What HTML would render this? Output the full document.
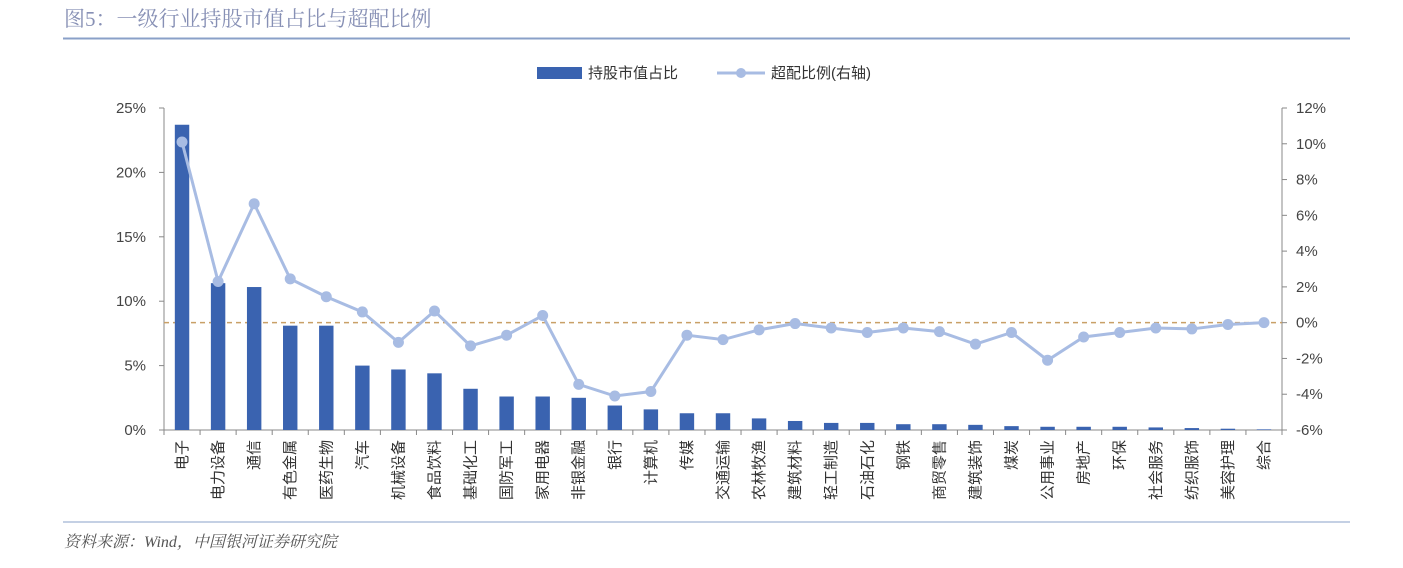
<!DOCTYPE html>
<html><head><meta charset="utf-8"><style>
body{margin:0;background:#fff;width:1403px;height:563px;overflow:hidden;font-family:"Liberation Sans","Noto Sans CJK SC",sans-serif}
</style></head><body>
<svg id="c" width="1403" height="563" xmlns="http://www.w3.org/2000/svg">
<text x="64" y="26" font-size="21" fill="#8790b5" font-family="Liberation Serif, Noto Serif CJK SC, serif">图5：一级行业持股市值占比与超配比例</text>
<line x1="63" y1="38.5" x2="1350" y2="38.5" stroke="#8aa0c8" stroke-width="2"/>
<line x1="63" y1="522" x2="1350" y2="522" stroke="#8aa0c8" stroke-width="1"/>
<text x="64" y="547" font-size="16" fill="#555" font-style="italic" font-family="Liberation Serif, Noto Serif CJK SC, serif">资料来源：Wind，中国银河证券研究院</text>
<g>
<rect x="537" y="67" width="45" height="12" fill="#3a63b0"/>
<text x="588" y="78" font-size="15" fill="#333">持股市值占比</text>
<line x1="717" y1="73" x2="765" y2="73" stroke="#a8bce3" stroke-width="3"/>
<circle cx="741" cy="73" r="5" fill="#a8bce3"/>
<text x="771" y="78" font-size="15" fill="#333">超配比例(右轴)</text>
</g>
<g id="g"></g>
</svg>
<script>
const categories=["电子","电力设备","通信","有色金属","医药生物","汽车","机械设备","食品饮料","基础化工","国防军工","家用电器","非银金融","银行","计算机","传媒","交通运输","农林牧渔","建筑材料","轻工制造","石油石化","钢铁","商贸零售","建筑装饰","煤炭","公用事业","房地产","环保","社会服务","纺织服饰","美容护理","综合"];
const shareValues=[23.7,11.4,11.1,8.1,8.1,5.0,4.7,4.4,3.2,2.6,2.6,2.5,1.9,1.6,1.3,1.3,0.9,0.7,0.55,0.55,0.45,0.45,0.4,0.3,0.25,0.25,0.25,0.2,0.15,0.1,0.05];
const overweightValues=[10.1,2.3,6.65,2.45,1.45,0.6,-1.1,0.65,-1.3,-0.7,0.4,-3.45,-4.1,-3.85,-0.7,-0.95,-0.4,-0.05,-0.3,-0.55,-0.3,-0.5,-1.2,-0.55,-2.1,-0.8,-0.55,-0.3,-0.35,-0.1,0];
const leftTicks=[0,5,10,15,20,25];
const rightTicks=[-6,-4,-2,0,2,4,6,8,10,12];
const NS="http://www.w3.org/2000/svg",g=document.getElementById('g');
const X0=164,X1=1282,YT=108,YB=430;
const band=(X1-X0)/categories.length;
const xc=i=>X0+band*(i+0.5);
const yL=v=>YB-(v/25)*(YB-YT);
const yR=v=>YB-((v+6)/18)*(YB-YT);
function mk(t,a){const e=document.createElementNS(NS,t);for(const k in a)e.setAttribute(k,a[k]);g.appendChild(e);return e;}
let e;
e=mk('line',{x1:X0,y1:YT,x2:X0,y2:YB,stroke:'#888'});


e=mk('line',{x1:X1,y1:YT,x2:X1,y2:YB,stroke:'#888'});


e=mk('line',{x1:X0,y1:YB,x2:X1,y2:YB,stroke:'#888'});


leftTicks.forEach(v=>{const y=yL(v);
 e=mk('line',{x1:X0-5,y1:y,x2:X0,y2:y,stroke:'#888'});
 
 
 e=mk('text',{x:X0-18,y:y+5,'font-size':15,fill:'#444','text-anchor':'end'});e.textContent=v+'%';
 
 });
rightTicks.forEach(v=>{const y=yR(v);
 e=mk('line',{x1:X1,y1:y,x2:X1+5,y2:y,stroke:'#888'});
 
 
 e=mk('text',{x:X1+14,y:y+5,'font-size':15,fill:'#444'});e.textContent=v+'%';
 
 });
for(let i=0;i<=categories.length;i++){e=mk('line',{x1:X0+band*i,y1:YB,x2:X0+band*i,y2:YB+5,stroke:'#888'});
 
 }
e=mk('line',{x1:X0,y1:yR(0),x2:X1,y2:yR(0),stroke:'#c9a067','stroke-width':1.5,'stroke-dasharray':'5,4'});


const bw=band*0.4;
shareValues.forEach((v,i)=>{
 e=mk('rect',{x:xc(i)-bw/2,y:yL(v),width:bw,height:YB-yL(v),fill:'#3a63b0'});
 
 });
e=mk('polyline',{points:overweightValues.map((v,i)=>xc(i)+','+yR(v)).join(' '),fill:'none',stroke:'#a8bce3','stroke-width':3});


overweightValues.forEach((v,i)=>{
 e=mk('circle',{cx:xc(i),cy:yR(v),r:5.5,fill:'#a8bce3'});
 
 });
categories.forEach((c,i)=>{
 e=mk('text',{x:0,y:0,'font-size':15,fill:'#333','text-anchor':'end',transform:`translate(${xc(i)+5},440) rotate(-90)`});e.textContent=c;
 
 });
</script>
</body></html>
